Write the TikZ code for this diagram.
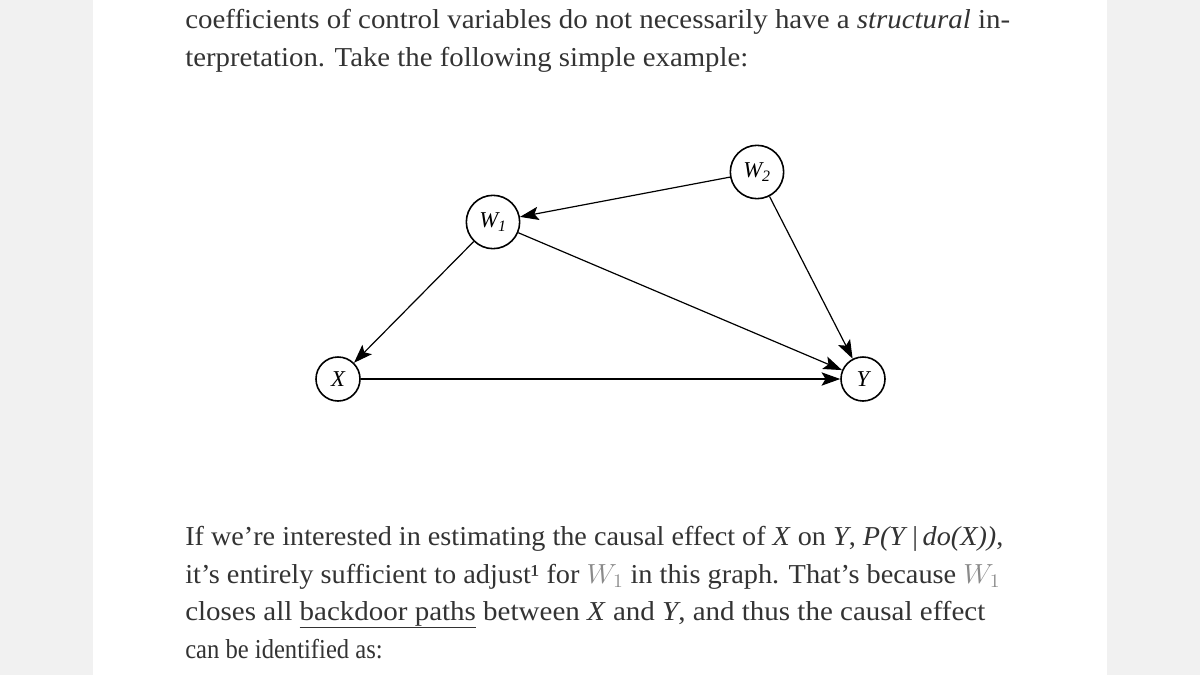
\documentclass[tikz,border=0pt]{standalone}
\usepackage{fontspec}
\setmainfont{Liberation Serif}
\usetikzlibrary{arrows.meta}
\definecolor{txt}{HTML}{333333}
\definecolor{bg}{HTML}{F1F1F1}
\definecolor{mgray}{HTML}{8A8A8A}
\begin{document}
\begin{tikzpicture}[x=0.75pt,y=-0.75pt,
  var/.style={circle,draw,line width=1.2pt,minimum size=#1,inner sep=0pt,font=\fontsize{17}{17}\selectfont\itshape},
  edge/.style={line width=0.9pt,-{Stealth[length=14pt,width=10pt,inset=3pt]}},
  ln/.style={anchor=base west,inner sep=0pt,text=txt,font=\fontsize{20.5}{22}\selectfont}]
\useasboundingbox (0,0) rectangle (1200,675);
\fill[bg] (0,0) rectangle (1200,675);
\fill[white] (93,0) rectangle (1107,675);
\node[ln] (t1) at (185,28) {\resizebox{825\dimexpr0.75pt}{\height}{coefficients of control variables do not necessarily have a \textit{structural} in-}};
\node[ln] (t2) at (185,66) {\resizebox{563\dimexpr0.75pt}{\height}{terpretation. Take the following simple example:}};
\node[var=40pt] (W2) at (757,172) {W\textsubscript{2}};
\node[var=40pt] (W1) at (493,222) {W\textsubscript{1}};
\node[var=33pt] (X) at (338,379) {X};
\node[var=33pt] (Y) at (863,379) {Y};
\draw[edge] (W2) -- (W1);
\draw[edge] (W1) -- (X);
\draw[edge] (W1) -- (Y);
\draw[edge] (W2) -- (Y);
\draw[edge] (X) -- (Y);
\node[ln] (b1) at (185,545) {\resizebox{818\dimexpr0.75pt}{\height}{If we’re interested in estimating the causal effect of \textit{X} on \textit{Y}, \textit{P(Y}\,|\,\textit{do(X))},}};
\node[ln] (b2) at (185,583) {\resizebox{815\dimexpr0.75pt}{\height}{it’s entirely sufficient to adjust¹ for {\color{mgray}$W_1$} in this graph. That’s because {\color{mgray}$W_1$}}};
\node[ln] (b3) at (185,620) {\resizebox{800\dimexpr0.75pt}{\height}{closes all \underline{backdoor paths} between \textit{X} and \textit{Y}, and thus the causal effect}};
\node[ln] (b4) at (185,658) {\scalebox{0.9}[1]{can be identified as:}};
\end{tikzpicture}
\end{document}
